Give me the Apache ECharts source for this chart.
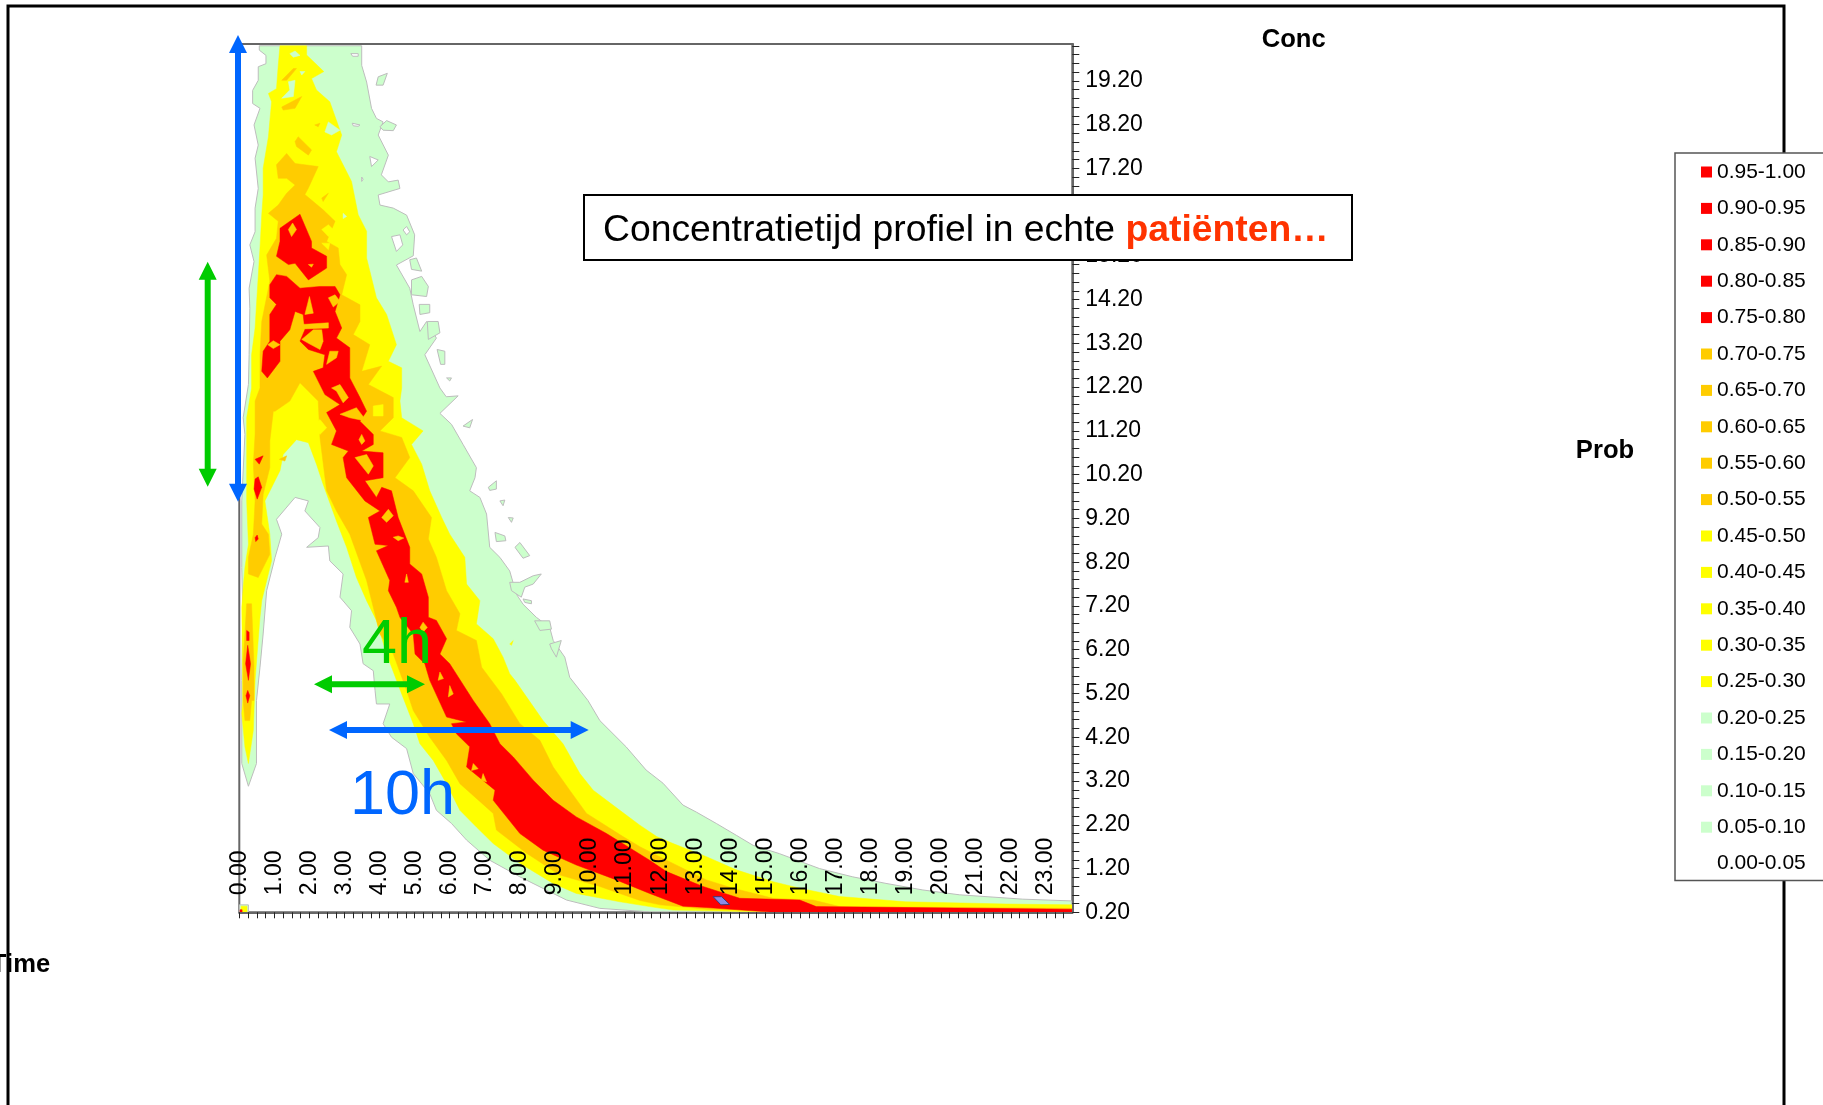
<!DOCTYPE html>
<html><head><meta charset="utf-8">
<style>html,body{margin:0;padding:0;background:#fff;overflow:hidden}#c{width:1823px;height:1105px}</style>
<script src="https://cdn.jsdelivr.net/npm/echarts@6/dist/echarts.min.js"></script>
</head><body><div id="c"></div>
<script>
// Bins of the probability legend
const legendBins = ['0.95-1.00','0.90-0.95','0.85-0.90','0.80-0.85','0.75-0.80','0.70-0.75','0.65-0.70','0.60-0.65','0.55-0.60','0.50-0.55','0.45-0.50','0.40-0.45','0.35-0.40','0.30-0.35','0.25-0.30','0.20-0.25','0.15-0.20','0.10-0.15','0.05-0.10','0.00-0.05'];
const legendColors = ['#FF0000','#FF0000','#FF0000','#FF0000','#FF0000','#FFCC00','#FFCC00','#FFCC00','#FFCC00','#FFCC00','#FFFF00','#FFFF00','#FFFF00','#FFFF00','#FFFF00','#CCFFCC','#CCFFCC','#CCFFCC','#CCFFCC','#FFFFFF'];

// Contour outlines, each point is [time h, concentration]
const greenOutline = [[.57,20],[.57,19.9],[.76,19.78],[.76,19.59],[.54,19.52],[.54,19.21],[.38,18.98],[.38,18.68],[.59,18.57],[.42,18.19],[.54,17.73],[.45,17.43],[.54,16.74],[.45,16.29],[.45,15.75],[.3,15.45],[.42,15.07],[.28,14.46],[.3,14],[.28,12.94],[.26,12.26],[.11,11.5],[.16,11.12],[.07,9.6],[.07,8.08],[.1,7],[.07,5.5],[.07,3.6],[.26,3.08],[.49,3.6],[.49,5.04],[.59,5.8],[.68,6.56],[.78,7.55],[1.02,8.31],[1.21,8.84],[1.06,9.18],[1.59,9.68],[1.97,9.6],[1.87,9.37],[2.3,8.99],[2.25,8.76],[1.92,8.54],[2.54,8.57],[2.58,8.23],[2.96,7.93],[2.87,7.4],[3.2,7.09],[3.15,6.71],[3.44,6.33],[3.53,5.88],[3.82,5.72],[3.87,5.27],[3.91,4.96],[4.29,4.96],[4.1,4.51],[4.34,4.2],[4.77,3.94],[4.96,3.37],[5.43,2.91],[5.62,2.53],[6.05,2.23],[6.48,1.85],[7.14,1.39],[8,1.01],[8.95,.63],[9.33,.48],[10.28,.29],[11.7,.21],[23.75,.2],[23.73,.46],[22.34,.5],[20.53,.6],[19.49,.71],[18.44,.86],[17.49,1.01],[16.54,1.2],[15.4,1.54],[14.65,1.73],[14.17,1.96],[13.6,2.23],[13.03,2.49],[12.65,2.65],[12.08,3.15],[11.6,3.45],[11.03,3.98],[10.28,4.58],[9.94,5.04],[9.42,5.57],[9.28,6.03],[8.95,6.41],[8.85,6.71],[8.47,6.94],[8.09,7.24],[7.9,7.47],[7.71,8],[7.43,8.31],[7.14,8.54],[7.05,9.3],[6.86,9.68],[6.57,9.83],[6.72,10.13],[6.76,10.36],[6.38,10.89],[6.05,11.35],[5.72,11.6],[6.24,12],[5.9,11.98],[5.72,12.18],[5.29,12.94],[5.62,13.32],[5.34,13.7],[5.15,13.47],[4.96,14.08],[4.86,14.46],[4.48,14.99],[4.96,15.2],[5,15.68],[4.77,16.13],[4.39,16.29],[4.01,16.36],[3.96,16.59],[4.58,16.74],[4.53,16.93],[4.25,16.89],[4.05,17.05],[4.25,17.5],[3.96,17.96],[4.1,18.26],[3.91,18.34],[3.77,18.57],[3.63,19.17],[3.49,19.55],[3.49,20]];
const greenCorner = [[0,.2],[.26,.2],[.26,.37],[0,.37]];
const greenIsland1 = [[3.9,19.1],[3.96,19.29],[4.22,19.37],[4.1,19.1]];
const greenIsland2 = [[4.01,18.15],[4.2,18.29],[4.48,18.19],[4.39,18.06],[4.1,18.07]];
const greenIsland3 = [[4.86,15.11],[5.05,15.15],[5.2,14.85],[4.91,14.89]];
const greenIsland4 = [[4.91,14.65],[5.2,14.73],[5.39,14.5],[5.34,14.27],[4.91,14.31]];
const greenIsland5 = [[5.13,14.09],[5.43,14.09],[5.43,13.9],[5.15,13.86]];
const greenIsland6 = [[5.36,13.7],[5.67,13.7],[5.72,13.44],[5.39,13.29]];
const greenIsland7 = [[5.64,13.06],[5.86,13.02],[5.86,12.72],[5.74,12.72]];
const greenIsland8 = [[5.91,12.41],[6.05,12.41],[6,12.34]];
const greenIsland9 = [[6.38,11.31],[6.65,11.46],[6.57,11.27]];
const greenIsland10 = [[7.1,9.91],[7.33,10.06],[7.33,9.87],[7.14,9.84]];
const greenIsland11 = [[7.43,9.6],[7.57,9.62],[7.52,9.49]];
const greenIsland12 = [[7.67,9.22],[7.81,9.21],[7.76,9.11]];
const greenIsland13 = [[7.29,8.88],[7.57,8.8],[7.6,8.69],[7.33,8.67]];
const greenIsland14 = [[7.86,8.54],[8,8.65],[8.28,8.35],[8.09,8.29]];
const greenIsland15 = [[7.71,7.74],[8,7.74],[8.38,7.89],[8.61,7.93],[8.38,7.7],[8.14,7.63],[8.04,7.4],[7.76,7.55]];
const greenIsland16 = [[8.09,7.36],[8.33,7.32],[8.33,7.25],[8.14,7.28]];
const greenIsland17 = [[8.42,6.86],[8.85,6.86],[8.9,6.67],[8.57,6.64]];
const greenIsland18 = [[8.85,6.33],[9.18,6.41],[9.04,6.03],[8.9,6.22]];
const whiteHole1 = [[3.18,19.82],[3.39,19.82],[3.39,19.76],[3.23,19.76]];
const whiteHole2 = [[3.22,18.23],[3.44,18.19],[3.39,18.16],[3.25,18.17]];
const whiteHole3 = [[3.72,17.47],[3.96,17.39],[3.77,17.24]];
const whiteHole4 = [[4.34,15.64],[4.58,15.68],[4.66,15.45],[4.48,15.3]];
const whiteHole5 = [[4.67,15.79],[4.77,15.87],[4.86,15.75],[4.77,15.68]];
const whiteHole6 = [[3.49,17],[3.53,16.95],[3.49,16.9]];

const yellowOutline = [[1.16,20],[1.11,19.55],[1.06,19.02],[.83,18.91],[.92,18.72],[.83,17.92],[.68,17.2],[.68,16.59],[.64,16.14],[.59,15.38],[.49,14.09],[.45,13.55],[.35,12.94],[.35,12.18],[.21,11.5],[.21,11.12],[.21,9.6],[.26,8.61],[.16,8.08],[.11,7.63],[.07,7.17],[.1,5.04],[.07,4.74],[.16,3.98],[.26,3.6],[.4,4.36],[.45,5.5],[.59,6.94],[.64,7.32],[.92,8.23],[.87,8.84],[.73,9.6],[1.16,10.29],[1.25,10.66],[1.63,11],[1.97,10.93],[2.2,10.44],[2.39,9.98],[2.77,9.14],[3.06,8.54],[3.34,7.85],[3.63,7.32],[3.91,6.87],[4.2,6.1],[4.63,5.19],[4.96,4.51],[5.15,4.05],[5.53,3.67],[5.91,3.14],[6.29,2.53],[6.76,2.15],[7.24,1.77],[8,1.32],[8.95,.86],[9.61,.63],[10.85,.44],[11.7,.33],[12.37,.25],[14.27,.22],[23.75,.21],[23.75,.37],[21.87,.39],[19,.44],[17.12,.56],[15.98,.75],[15.22,.9],[14.17,1.17],[13.32,1.47],[12.37,1.77],[11.9,1.93],[11.42,2.19],[10.85,2.53],[10.09,2.99],[9.71,3.37],[9.23,4.05],[8.66,4.58],[7.86,5.5],[7.71,5.65],[7.52,6.03],[7.24,6.45],[6.76,6.79],[6.86,7.32],[6.48,7.7],[6.43,8.31],[6,8.84],[5.77,9.22],[5.43,9.83],[5.2,10.44],[4.91,10.89],[5.24,11.2],[4.63,11.5],[4.58,11.88],[4.63,12.18],[4.63,12.64],[4.25,12.79],[4.48,13.17],[4.2,13.86],[3.91,14.24],[3.63,15.15],[3.63,15.76],[3.39,16.14],[3.2,16.9],[2.77,17.58],[2.92,17.96],[2.87,18.07],[2.58,18.72],[2.2,18.99],[2.06,19.25],[2.41,19.41],[1.92,19.79],[1.92,20]];
const yellowCorner = [[.05,.2],[.22,.2],[.22,.34],[.05,.34]];
const yellowSpot = [[7.71,6.33],[7.81,6.41],[7.76,6.3]];
const greenSpot1 = [[1.44,19.82],[1.59,19.88],[1.73,19.78],[1.54,19.74]];
const greenSpot2 = [[1.73,19.41],[1.87,19.41],[1.78,19.33]];
const greenSpot3 = [[1.4,19.18],[1.59,19.21],[1.54,18.84],[1.21,18.8],[1.44,18.99]];
const greenSpot4 = [[2.44,18.03],[2.54,18.26],[2.87,18.07],[2.63,17.96]];
const greenSpot5 = [[2.96,16.17],[3.06,16.1],[2.96,16.05]];

const orangeOutline = [[1.06,17.28],[1.35,17.54],[1.59,17.31],[2.25,17.24],[1.97,16.75],[1.87,16.6],[2.39,16.25],[2.73,15.99],[2.49,15.53],[2.82,15.38],[2.87,15],[3.06,14.77],[2.92,14.31],[3.44,14.08],[3.44,13.7],[3.25,13.4],[3.72,13.17],[3.49,12.56],[4.06,12.68],[3.68,12.26],[4.39,11.96],[4.39,11.5],[4.01,11.2],[4.63,11.05],[4.86,10.59],[4.44,10.13],[4.96,9.83],[5.48,9.22],[5.39,8.73],[5.62,8.31],[5.91,7.55],[6.29,7.02],[6.19,6.64],[6.76,6.41],[6.91,5.8],[7.48,5.19],[8,4.51],[8.57,4.13],[8.95,3.52],[9.42,2.99],[9.9,2.46],[10.94,1.93],[11.42,1.7],[12.18,1.39],[13.32,.94],[14.08,.75],[15.22,.52],[16.36,.48],[17.12,.33],[23.75,.29],[23.75,.22],[15.22,.23],[13.32,.27],[12,.37],[11.42,.47],[10.28,.79],[9.14,1.05],[8.19,1.55],[7.33,2.08],[7.24,2.46],[6.29,3.14],[5.91,3.67],[5.43,4.2],[4.96,4.81],[4.77,5.27],[4.39,6.1],[4.01,6.56],[3.63,7.78],[3.15,8.84],[2.77,9.37],[2.49,9.83],[2.3,11.05],[2.25,11.88],[1.73,12.3],[1.44,11.88],[1.02,11.65],[.97,11.65],[.87,10.97],[.87,10.36],[.68,9.75],[.64,9.07],[.83,8.84],[.87,8.38],[.54,7.85],[.26,7.93],[.26,8.31],[.4,8.84],[.45,9.6],[.4,10.44],[.45,11.12],[.45,11.88],[.59,12.18],[.59,12.94],[.64,13.7],[.87,14.62],[.78,15.22],[1.06,15.6],[1.11,15.99],[.83,16.17],[1.11,16.36],[1.35,16.63],[1.59,16.82],[1.35,16.97],[1.11,16.97]];
const orangeSpike = [[.21,7.25],[.35,7.25],[.38,6.64],[.42,5.8],[.42,5.04],[.35,5.04],[.3,4.58],[.16,4.58],[.11,5.04],[.11,5.95],[.16,6.56]];
const orangePatch1 = [[1.59,17.81],[1.68,17.92],[2.06,17.62],[1.97,17.5],[1.63,17.7]];
const orangePatch2 = [[1.21,19.21],[1.54,19.48],[1.63,19.48],[1.35,19.21]];
const orangePatch3 = [[1.21,18.6],[1.78,18.84],[1.59,18.57],[1.25,18.53]];
const orangePatch4 = [[2.15,18.19],[2.3,18.23],[2.25,18.15]];
const orangePatch5 = [[2.35,16.52],[2.54,16.63],[2.39,16.44]];
const orangePatch6 = [[1.14,10.55],[1.35,10.63],[1.3,10.51]];
const yellowIsle1 = [[2.11,11.31],[2.3,11.46],[2.49,11.27],[2.3,11.12]];
const yellowIsle2 = [[3.82,11.77],[4.1,11.8],[4.1,11.54],[3.82,11.54]];
const yellowIsle3 = [[2.35,15.8],[2.54,15.91],[2.73,15.76],[2.54,15.64]];
const yellowIsle4 = [[2.35,15.49],[2.58,15.49],[2.54,15.34]];

const redOutline = [[.87,14.54],[1.06,14.77],[1.35,14.73],[1.73,14.46],[2.3,14.5],[2.73,14.5],[2.87,14.31],[2.73,13.93],[2.92,13.55],[2.77,13.32],[3.15,13.1],[3.15,12.41],[3.44,11.96],[3.63,11.65],[3.44,11.42],[3.82,11.12],[3.82,10.89],[3.49,10.74],[4.1,10.7],[4.1,10.13],[3.58,10.06],[3.91,9.68],[4.06,9.91],[4.34,9.83],[4.53,9.22],[4.86,8.54],[4.86,8.16],[5.2,7.93],[5.39,7.4],[5.39,6.94],[5.62,6.87],[5.91,6.45],[5.72,6.1],[6,5.88],[6.67,5.04],[7.14,4.51],[7.43,4.05],[7.81,3.75],[8.38,3.22],[8.95,2.76],[9.61,2.38],[10.47,2],[11.7,1.39],[12.18,1.13],[13.22,.79],[14.27,.52],[15.98,.48],[16.45,.33],[23.75,.27],[23.75,.2],[15.22,.2],[13.32,.31],[12.65,.34],[11.7,.63],[10.75,.94],[9.61,1.28],[8.66,1.62],[8,2],[7.24,2.76],[7.29,2.99],[6.48,3.52],[6.57,3.98],[6.19,4.28],[6.05,4.51],[6.48,4.55],[5.91,4.66],[5.43,5.5],[5.29,5.88],[5.01,6.1],[4.96,6.56],[4.58,6.94],[4.48,7.17],[4.25,7.55],[4.29,7.78],[3.91,8.46],[4.25,8.58],[3.87,8.61],[3.68,9.22],[4.01,9.37],[3.58,9.6],[3.06,10.13],[2.96,10.59],[3.11,10.74],[2.63,10.89],[2.77,11.2],[2.49,11.62],[2.87,11.8],[2.44,12.03],[2.11,12.56],[2.39,12.64],[2.44,12.94],[1.97,13.06],[1.73,13.25],[1.87,13.51],[1.82,13.86],[1.59,13.93],[1.44,13.51],[1.16,13.25],[1.16,12.79],[.8,12.41],[.64,12.56],[.68,13.02],[.87,13.25],[.87,13.86],[1.06,14.09],[.87,14.24]];
const redCap = [[1.16,15.83],[1.73,16.15],[2.06,15.53],[2.06,15.38],[2.49,15.19],[2.49,14.92],[1.97,14.65],[1.59,15.03],[1.4,15],[1.06,15.19],[1.16,15.53]];
const redSpot1 = [[.45,10.55],[.68,10.63],[.57,10.44]];
const redSpot2 = [[.45,10.1],[.54,10.15],[.64,9.91],[.51,9.64],[.42,9.87]];
const redSpot3 = [[.45,8.76],[.51,8.82],[.54,8.73],[.47,8.67]];
const redSpot4 = [[.21,6.64],[.28,6.6],[.28,6.41],[.21,6.41]];
const redSpot5 = [[.18,5.88],[.24,6.3],[.32,5.88],[.26,5.5]];
const redSpot6 = [[.19,5.15],[.24,5.27],[.3,5.15],[.24,4.98]];
const redCorner = [[.02,.2],[.08,.2],[.08,.26],[.02,.26]];
const orangeHole1 = [[2,14.27],[2.11,13.89],[1.87,13.86]];
const orangeHole2 = [[2.54,14.24],[2.73,14.31],[2.87,14.16],[2.68,14.03]];
const orangeHole3 = [[1.78,13.63],[2.54,13.67],[2.54,13.55],[1.82,13.53]];
const orangeHole4 = [[2.11,13.51],[2.35,13.51],[2.39,13.25],[2.3,13.06],[1.97,13.2],[1.78,13.29]];
const orangeHole5 = [[2.58,13.02],[2.82,13.02],[2.77,12.87],[2.49,12.72]];
const orangeHole6 = [[2.63,12.18],[2.87,12.26],[3.11,11.96],[2.96,11.84],[2.77,12.11]];
const orangeHole7 = [[1.97,15],[2.11,15.01],[2.06,14.94]];
const orangeHole8 = [[1.4,15.8],[1.52,15.95],[1.63,15.8],[1.49,15.64]];
const orangeHole9 = [[.81,13.17],[.97,13.26],[1.16,13.17],[.97,13.08]];
const orangeHole10 = [[3.3,10.59],[3.63,10.66],[3.82,10.4],[3.68,10.21]];
const orangeHole11 = [[2.87,11.58],[3.34,11.73],[3.63,11.42],[3.15,11.5]];
const orangeHole12 = [[3.49,11.12],[3.58,10.97],[3.49,10.89],[3.41,11]];
const orangeHole13 = [[4.06,9.22],[4.25,9.41],[4.39,9.26],[4.2,9.11]];
const orangeHole14 = [[4.39,8.77],[4.53,8.8],[4.69,8.75],[4.53,8.69]];
const orangeHole15 = [[4.77,7.93],[4.82,7.74],[4.72,7.74]];
const orangeHole16 = [[5.24,6.83],[5.36,6.71],[5.24,6.6],[5.15,6.71]];
const orangeHole17 = [[5.72,5.69],[5.82,5.54],[5.67,5.5]];
const orangeHole18 = [[6,5.38],[6.1,5.19],[5.96,5.12]];
const orangeHole19 = [[6.67,3.6],[6.81,3.48],[6.62,3.44]];
const orangeHole20 = [[6.95,3.37],[7.05,3.18],[6.9,3.22]];
const purplePatch = [[13.51,.557],[13.75,.557],[13.98,.38],[13.73,.37]];

const timeRange = [0, 23.75];
const concRange = [0.2, 20.04];

const chart = echarts.init(document.getElementById('c'), null, {renderer:'canvas', width:1823, height:1105});

function poly(name, fill, stroke, polys, z){
  return {
    type:'custom', name, silent:true, z, clip:true, coordinateSystem:'cartesian2d',
    data: polys.map((p,i)=>[p[0][0], p[0][1], i]),
    encode:{x:0,y:1},
    renderItem(params, api){
      const pts = polys[params.dataIndex].map(v=>api.coord(v));
      return {type:'polygon', shape:{points:pts}, style:{fill, stroke: stroke||fill, lineWidth: stroke?1:0.5}};
    }
  };
}
const G='#CCFFCC', Y='#FFFF00', O='#FFCC00', R='#FF0000', W='#FFFFFF';
const layers = [
  poly('green', G, '#BDBDBD', [greenOutline,greenCorner,greenIsland1,greenIsland2,greenIsland3,greenIsland4,greenIsland5,greenIsland6,greenIsland7,greenIsland8,greenIsland9,greenIsland10,greenIsland11,greenIsland12,greenIsland13,greenIsland14,greenIsland15,greenIsland16,greenIsland17,greenIsland18], 1),
  poly('white', W, '#BDBDBD', [whiteHole1,whiteHole2,whiteHole3,whiteHole4,whiteHole5,whiteHole6], 1),
  poly('yellow', Y, null, [yellowOutline,yellowCorner,yellowSpot], 1),
  poly('greenSpots', G, null, [greenSpot1,greenSpot2,greenSpot3,greenSpot4,greenSpot5], 1),
  poly('orange', O, null, [orangeOutline,orangeSpike,orangePatch1,orangePatch2,orangePatch3,orangePatch4,orangePatch5,orangePatch6], 1),
  poly('yellowIsles', Y, null, [yellowIsle1,yellowIsle2,yellowIsle3,yellowIsle4], 1),
  poly('red', R, null, [redOutline,redCap,redSpot1,redSpot2,redSpot3,redSpot4,redSpot5,redSpot6,redCorner], 1),
  poly('orangeHoles', O, null, [orangeHole1,orangeHole2,orangeHole3,orangeHole4,orangeHole5,orangeHole6,orangeHole7,orangeHole8,orangeHole9,orangeHole10,orangeHole11,orangeHole12,orangeHole13,orangeHole14,orangeHole15,orangeHole16,orangeHole17,orangeHole18,orangeHole19,orangeHole20], 1),
  poly('purple', '#8A8AE6', '#3A3A7A', [purplePatch], 1)
];
const legendSeries = legendBins.map(name=>({type:'custom', name, data:[], renderItem(){return null;}}));

const FONT = '"Liberation Sans", Arial, sans-serif';
function arrowV(x,y1,y2,color){ // vertical double arrow
  const h=18,w=9,s=3;
  return {type:'polygon', z:50, shape:{points:[[x,y1],[x+w,y1+h],[x+s,y1+h],[x+s,y2-h],[x+w,y2-h],[x,y2],[x-w,y2-h],[x-s,y2-h],[x-s,y1+h],[x-w,y1+h]]}, style:{fill:color}};
}
function arrowH(y,x1,x2,color){
  const h=18,w=9,s=3;
  return {type:'polygon', z:50, shape:{points:[[x1,y],[x1+h,y-w],[x1+h,y-s],[x2-h,y-s],[x2-h,y-w],[x2,y],[x2-h,y+w],[x2-h,y+s],[x1+h,y+s],[x1+h,y+w]]}, style:{fill:color}};
}
const BLUE='#0066FF', GREEN='#00CC00';

chart.setOption({
  animation:false,
  backgroundColor:'#fff',
  grid:{left:239.3, top:44, width:833, height:868.3, show:true, borderColor:'#666', borderWidth:2, backgroundColor:'transparent'},
  xAxis:{type:'value', min:timeRange[0], max:timeRange[1], interval:0.25, z:5,
    splitLine:{show:false},
    axisLine:{show:true, onZero:false, lineStyle:{color:'#666', width:2}},
    axisTick:{show:true, inside:false, length:6, lineStyle:{color:'#222', width:1}},
    axisLabel:{show:true, inside:true, rotate:90, margin:17, align:'left', verticalAlign:'middle', padding:[5,0,0,0], color:'#000', fontFamily:FONT, fontSize:23, hideOverlap:false, showMinLabel:true, showMaxLabel:false,
      formatter:v=>(Math.abs(v-Math.round(v))<1e-6)?v.toFixed(2):''}},
  yAxis:{type:'value', position:'right', min:concRange[0], max:concRange[1], interval:0.2, z:5,
    splitLine:{show:false},
    axisLine:{show:true, onZero:false, lineStyle:{color:'#666', width:2}},
    axisTick:{show:true, inside:false, length:7, lineStyle:{color:'#222', width:1}},
    axisLabel:{show:true, margin:13, color:'#000', fontFamily:FONT, fontSize:23, hideOverlap:false, showMaxLabel:false,
      formatter:v=>(Math.round((v-0.2)*5)%5===0)?v.toFixed(2):''}},
  legend:{show:true, orient:'vertical', left:1675, top:153, z:10, selectedMode:false,
    padding:[7,100,5,26], itemWidth:11, itemHeight:11, itemGap:12.4, icon:'rect',
    backgroundColor:'#fff', borderColor:'#555', borderWidth:1.5,
    textStyle:{fontFamily:FONT, fontSize:21, color:'#000', lineHeight:24},
    data:legendBins.map((name,i)=>({name, icon:'rect', itemStyle:{color:legendColors[i], borderWidth:0}}))
  },
  series:[...layers, ...legendSeries],
  graphic:[
    {type:'polyline', z:0, silent:true, shape:{points:[[8,1105],[8,6],[1784,6],[1784,1105]]}, style:{stroke:'#000', lineWidth:3, fill:null}},
    {type:'text', z:20, x:1293.7, y:39.5, style:{text:'Conc', fill:'#000', font:'bold 25.6px '+FONT, textAlign:'center', textVerticalAlign:'middle'}},
    {type:'text', z:20, x:1605, y:450.5, style:{text:'Prob', fill:'#000', font:'bold 25.6px '+FONT, textAlign:'center', textVerticalAlign:'middle'}},
    {type:'text', z:20, x:20.5, y:964.5, style:{text:'Time', fill:'#000', font:'bold 25.6px '+FONT, textAlign:'center', textVerticalAlign:'middle'}},
    arrowV(238,35,501.7,BLUE),
    arrowV(207.7,261.7,486.7,GREEN),
    arrowH(684.3,314,425,GREEN),
    arrowH(730,329,588.7,BLUE),
    {type:'text', z:50, x:362, y:677, style:{text:'4h', fill:GREEN, font:'63px '+FONT, textAlign:'left', textVerticalAlign:'bottom'}},
    {type:'text', z:50, x:350, y:828, style:{text:'10h', fill:BLUE, font:'63px '+FONT, textAlign:'left', textVerticalAlign:'bottom'}},
    {type:'rect', z:60, shape:{x:584,y:195,width:768,height:65}, style:{fill:'#fff', stroke:'#000', lineWidth:2}},
    {type:'text', z:61, x:603, y:231, style:{text:'{a|Concentratietijd profiel in echte }{b|patiënten…}', textAlign:'left', textVerticalAlign:'middle',
      rich:{a:{font:'37.3px '+FONT, fill:'#000'}, b:{font:'bold 37.3px '+FONT, fill:'#FF3300'}}}}
  ]
});
</script></body></html>
